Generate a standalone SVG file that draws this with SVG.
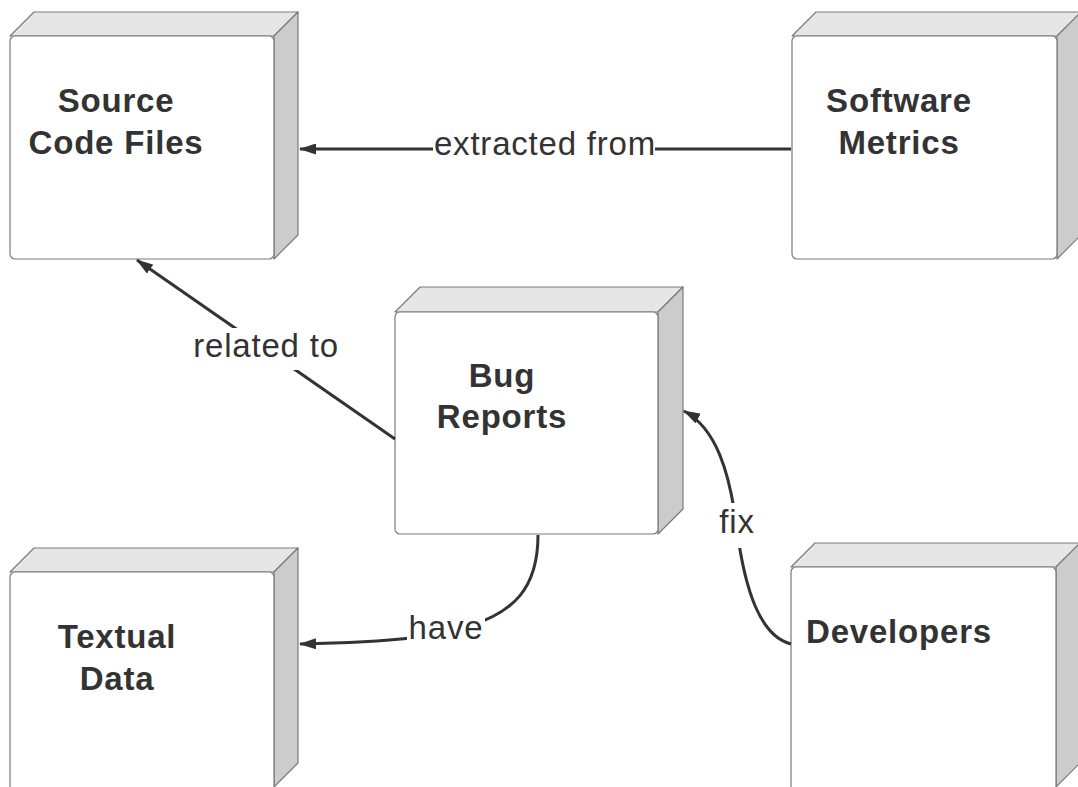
<svg xmlns="http://www.w3.org/2000/svg" width="1078" height="787" viewBox="0 0 1078 787">
<style>
.front{fill:#ffffff;stroke:#7a7a7a;stroke-width:1.2}
.top{fill:#e6e6e6;stroke:#7a7a7a;stroke-width:1.2;stroke-linejoin:round}
.side{fill:#cccccc;stroke:#7a7a7a;stroke-width:1.2;stroke-linejoin:round}
.nt{font-family:"Liberation Sans",Arial,sans-serif;font-weight:bold;font-size:33px;fill:#333333;text-anchor:middle;letter-spacing:0.8px}
.conn{fill:none;stroke:#333333;stroke-width:3}
.mask{fill:#ffffff}
.lt{font-family:"Liberation Sans",Arial,sans-serif;font-size:33px;fill:#333333;text-anchor:middle;letter-spacing:0.8px}
</style>
<defs>
<marker id="arrow" viewBox="0 0 17 11" markerWidth="17" markerHeight="11" refX="16" refY="5.5" orient="auto" markerUnits="userSpaceOnUse">
<path d="M0,0 L17,5.5 L0,11 Z" fill="#333333"/>
</marker>
</defs>
<rect width="1078" height="787" fill="#ffffff"/>
<g id="node-source">
<path class="top" d="M10,36 L34,12 L298,12 L274,36 Z"/>
<path class="side" d="M274,36 L298,12 L298,235 L274,259 Z"/>
<rect class="front" x="10" y="36" width="264" height="223" rx="5"/>
<text class="nt" x="116" y="112">Source</text>
<text class="nt" x="116" y="154">Code Files</text>
</g>
<g id="node-metrics">
<path class="top" d="M792,36 L816,12 L1081,12 L1057,36 Z"/>
<path class="side" d="M1057,36 L1081,12 L1081,235 L1057,259 Z"/>
<rect class="front" x="792" y="36" width="265" height="223" rx="5"/>
<text class="nt" x="899" y="112">Software</text>
<text class="nt" x="899" y="154">Metrics</text>
</g>
<g id="node-bug">
<path class="top" d="M395,312 L420,287 L683,287 L658,312 Z"/>
<path class="side" d="M658,312 L683,287 L683,509 L658,534 Z"/>
<rect class="front" x="395" y="312" width="263" height="222" rx="5"/>
<text class="nt" x="502" y="387">Bug</text>
<text class="nt" x="502" y="428">Reports</text>
</g>
<g id="node-textual">
<path class="top" d="M10,572 L34,548 L298,548 L274,572 Z"/>
<path class="side" d="M274,572 L298,548 L298,763 L274,787 Z"/>
<rect class="front" x="10" y="572" width="264" height="220" rx="5"/>
<text class="nt" x="117" y="648">Textual</text>
<text class="nt" x="117" y="690">Data</text>
</g>
<g id="node-developers">
<path class="top" d="M791,567 L815,543 L1080,543 L1056,567 Z"/>
<path class="side" d="M1056,567 L1080,543 L1080,763 L1056,787 Z"/>
<rect class="front" x="791" y="567" width="265" height="225" rx="5"/>
<text class="nt" x="899" y="643">Developers</text>
</g>
<g id="connectors">
<g id="edge-extracted">
<path class="conn" d="M791,149 L300,149" marker-end="url(#arrow)"/>
<rect class="mask" x="433" y="134" width="222" height="30"/>
<text class="lt" x="545" y="155">extracted from</text>
</g>
<g id="edge-related">
<path class="conn" d="M395,439 L137,260" marker-end="url(#arrow)"/>
<rect class="mask" x="190" y="328" width="150" height="42"/>
<text class="lt" x="266" y="357">related to</text>
</g>
<g id="edge-have">
<path class="conn" d="M538,535 C538,590 512,612 470,626 C440,636 400,642 300,644" marker-end="url(#arrow)"/>
<rect class="mask" x="407" y="608" width="78" height="40"/>
<text class="lt" x="446" y="639">have</text>
</g>
<g id="edge-fix">
<path class="conn" d="M791,644 C760,636 745,590 737,530 C730,472 716,428 684,411" marker-end="url(#arrow)"/>
<rect class="mask" x="716" y="503" width="40" height="45"/>
<text class="lt" x="737" y="533">fix</text>
</g>
</g>
</svg>
